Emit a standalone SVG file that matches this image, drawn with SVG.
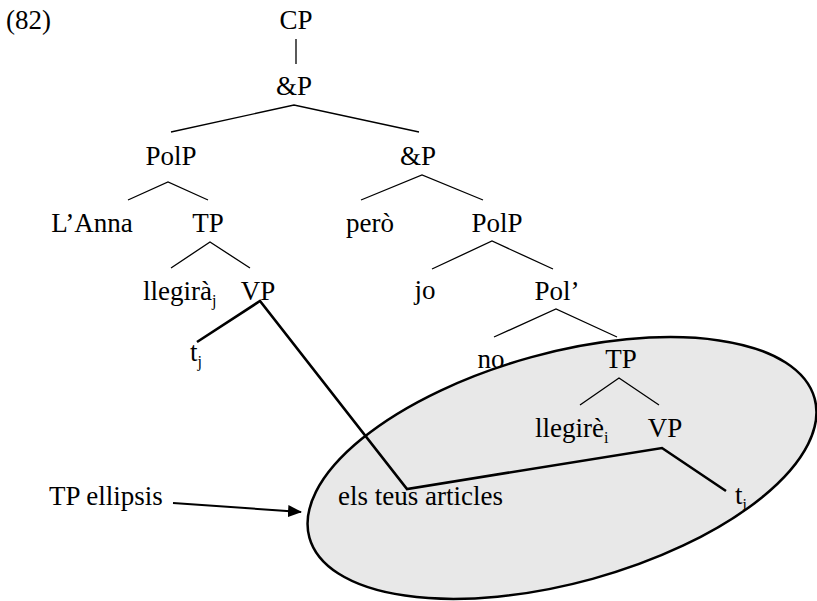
<svg xmlns="http://www.w3.org/2000/svg" width="817" height="601" viewBox="0 0 817 601" font-family="'Liberation Serif', 'DejaVu Serif', 'Times New Roman', serif">
<defs>
<style>
text{font-family:"Liberation Serif","DejaVu Serif","Times New Roman",serif;font-size:27px;fill:#000}
.m{text-anchor:middle}
.sub{font-size:16px}
.thin{stroke:#000;stroke-width:1.3;fill:none}
.thick{stroke:#000;stroke-width:2.6;fill:none;stroke-linejoin:miter}
</style>
<marker id="ah" viewBox="0 0 14 12" refX="13" refY="6" markerWidth="14" markerHeight="12" markerUnits="userSpaceOnUse" orient="auto">
<path d="M0,0 L14,6 L0,12 z" fill="#000"/>
</marker>
</defs>
<rect width="817" height="601" fill="#fff"/>
<text x="6" y="29">(82)</text>
<g id="n-CP"><text class="m" x="296" y="29">CP</text></g>
<g id="n-andP1"><text class="m" x="294" y="95">&amp;P</text></g>
<g id="n-PolP1"><text class="m" x="171" y="165">PolP</text></g>
<g id="n-andP2"><text class="m" x="418" y="165">&amp;P</text></g>
<g id="n-LAnna"><text class="m" x="92" y="232">L’Anna</text></g>
<g id="n-TP1"><text class="m" x="208" y="232">TP</text></g>
<g id="n-pero"><text class="m" x="370" y="232">però</text></g>
<g id="n-PolP2"><text class="m" x="497" y="232">PolP</text></g>
<g id="n-llegira"><text x="143" y="300">llegirà<tspan class="sub" dy="6">j</tspan></text></g>
<g id="n-VP1"><text class="m" x="258" y="300">VP</text></g>
<g id="n-jo"><text class="m" x="425" y="299">jo</text></g>
<g id="n-Pol1"><text class="m" x="557" y="300">Pol’</text></g>
<g id="n-tj"><text x="190" y="361">t<tspan class="sub" dy="6">j</tspan></text></g>
<g id="n-no"><text class="m" x="491" y="368">no</text></g>
<g id="n-TP2"><text class="m" x="621" y="368">TP</text></g>
<g id="n-llegire"><text x="535" y="437">llegirè<tspan class="sub" dy="6">i</tspan></text></g>
<g id="n-VP2"><text class="m" x="665" y="437">VP</text></g>
<g id="n-articles"><text x="338" y="505">els teus articles</text></g>
<g id="n-ti"><text x="735" y="504">t<tspan class="sub" dy="6">i</tspan></text></g>
<g id="n-label"><text x="49" y="505">TP ellipsis</text></g>
<g id="connectors">
<path class="thin" d="M296,39 V64"/>
<path class="thin" d="M171,132 L294,105 L419,132"/>
<path class="thin" d="M128,200 L168,182 L208,200"/>
<path class="thin" d="M361,200 L422,175 L483,200"/>
<path class="thin" d="M171,268 L210,242 L250,268"/>
<path class="thin" d="M432,269 L492,241 L553,269"/>
<path class="thin" d="M494,337 L556,309 L617,337"/>
<path class="thin" d="M580,405 L619,378 L659,405"/>
<path class="thick" d="M197,342 L260,301 L407,489 L662,448 L726,491"/>
<path stroke="#000" stroke-width="2" fill="none" d="M173,503 L301,512" marker-end="url(#ah)"/>
</g>
<g id="ellipse">
<ellipse cx="562" cy="468" rx="262" ry="115" transform="rotate(-15.4 562 468)" fill="#000" fill-opacity="0.09" stroke="#000" stroke-width="2.5"/>
</g>
</svg>
